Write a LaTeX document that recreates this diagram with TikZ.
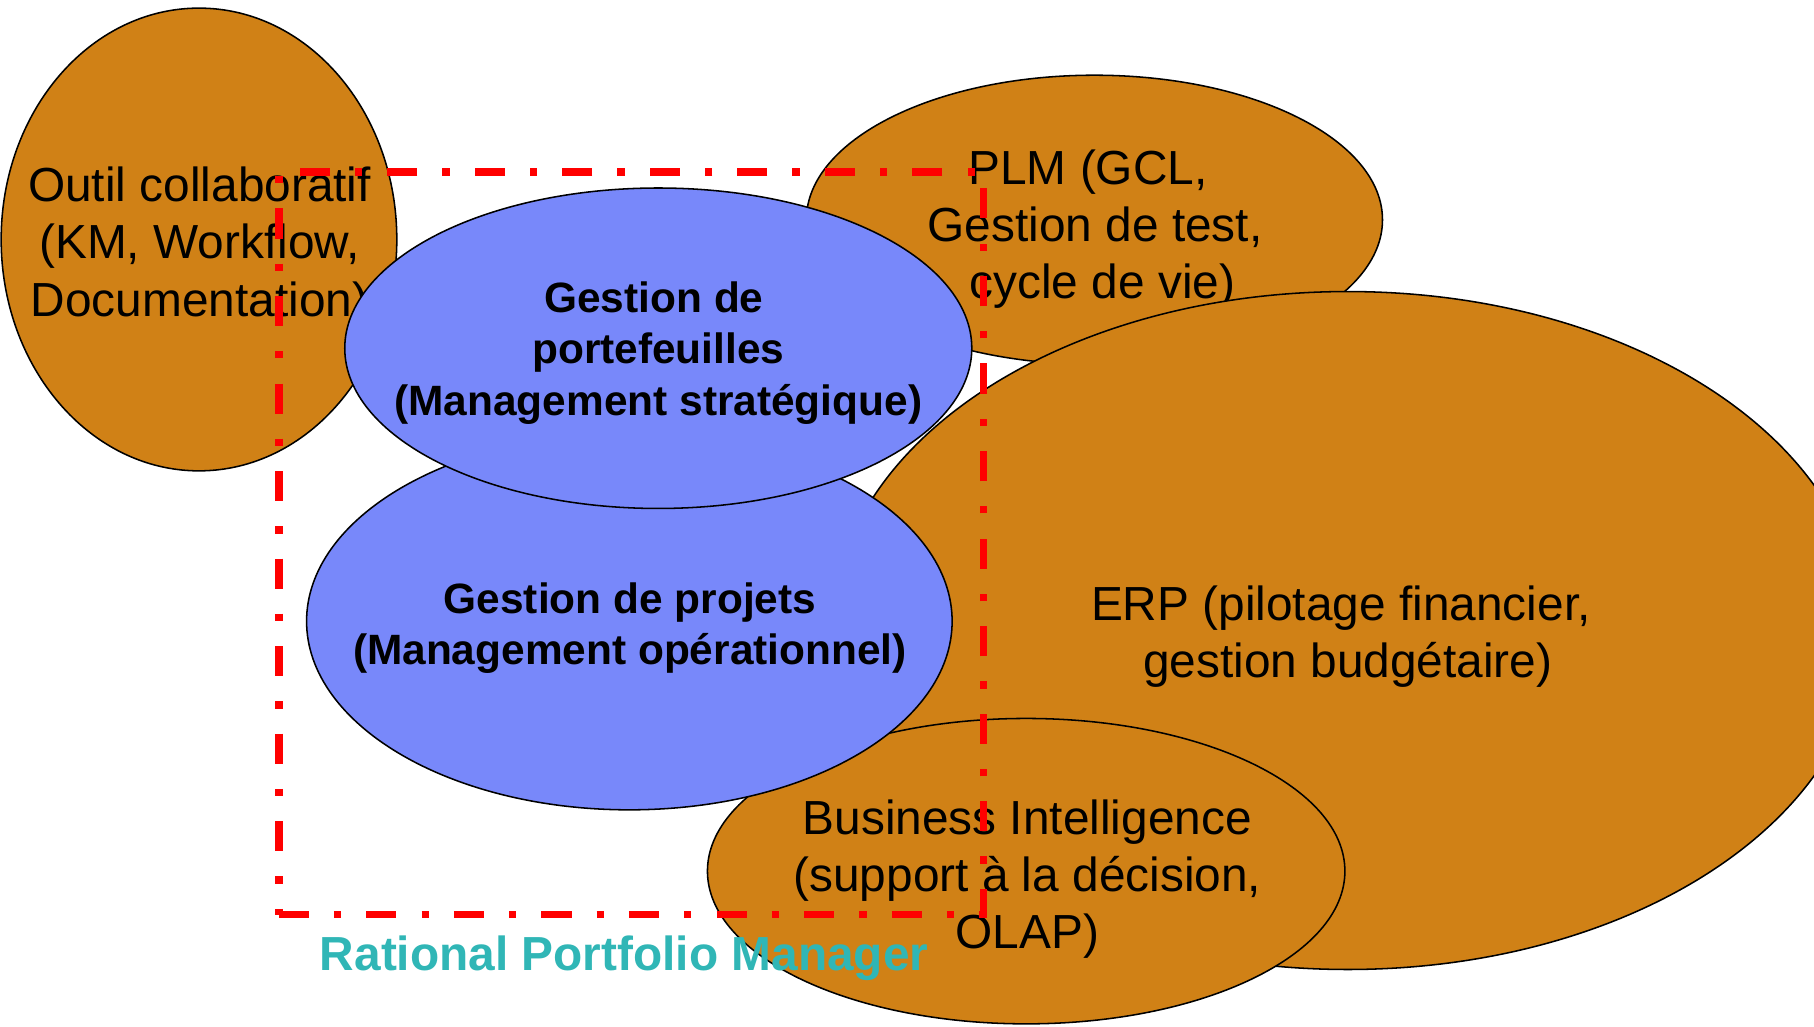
\documentclass[tikz,border=0pt]{standalone}
\usepackage{fontspec}
\setmainfont{Liberation Sans}
\usetikzlibrary{shapes.geometric}
\definecolor{ochre}{RGB}{208,129,22}
\definecolor{lavender}{RGB}{120,136,250}
\definecolor{tealtxt}{RGB}{48,182,182}
\begin{document}
\begin{tikzpicture}[x=0.6pt,y=-0.6pt,
  blob/.style={ellipse, draw=black, line width=0.8pt, inner sep=0pt},
  warm/.style={blob, fill=ochre},
  cool/.style={blob, fill=lavender},
  plain/.style={align=center, font=\fontsize{24.8}{29.7}\selectfont, inner sep=0pt},
  strong/.style={align=center, font=\fontsize{22}{26.6}\selectfont\bfseries, inner sep=0pt},
  frame/.style={rectangle, draw=red, line width=4pt, inner sep=0pt,
    dash pattern=on 15.6pt off 13pt on 3.8pt off 13pt},
  caption/.style={font=\fontsize{24.8}{29.7}\selectfont\bfseries, text=tealtxt, inner sep=0pt}]
\useasboundingbox (0,0) rectangle (1568,887);

% Outil collaboratif
\node[warm, minimum width=205.2pt, minimum height=240pt] (outil) at (172,207) {};
\node[plain] (outilt) at (172.5,213) {Outil collaboratif\\(KM, Workflow,\\Documentation)};

% PLM
\node[warm, minimum width=298.8pt, minimum height=150pt] (plm) at (946,190) {};
\node[plain] (plmt) at (946.5,198) {PLM (GCL,\kern7.2pt\\Gestion de test,\\\kern7.6pt cycle de vie)};

% ERP
\node[warm, minimum width=535.2pt, minimum height=351.6pt] (erp) at (1165,545) {};
\node[plain] (erpt) at (1159,550) {ERP (pilotage financier,\\\kern7.2pt gestion budgétaire)};

% Business Intelligence
\node[warm, minimum width=330.6pt, minimum height=158.4pt] (bi) at (887,753) {};
\node[plain] (bit) at (888,760) {Business Intelligence\\(support à la décision,\\OLAP)};

% Gestion de projets
\node[cool, minimum width=334.8pt, minimum height=195.6pt] (proj) at (544,537) {};
\node[strong] (projt) at (544.5,543) {Gestion de projets\\(Management opérationnel)};

% Gestion de portefeuilles
\node[cool, minimum width=325.2pt, minimum height=166.2pt] (port) at (569,301) {};
\node[strong] (portt) at (569,305) {Gestion de\kern4.5pt\\portefeuilles\\(Management stratégique)};

% Rational Portfolio Manager frame
\node[frame, minimum width=365.4pt, minimum height=385.2pt] (rpm) at (545.5,469.5) {};
\node[caption, anchor=base] (rpmt) at (539.5,839) {Rational Portfolio Manager};
\end{tikzpicture}
\end{document}
